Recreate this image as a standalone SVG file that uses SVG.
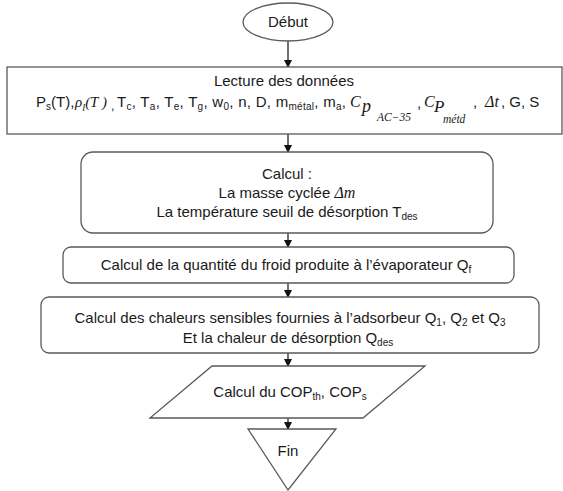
<svg xmlns="http://www.w3.org/2000/svg" width="563" height="491" viewBox="0 0 563 491">
<style>
.box{fill:#fff;stroke:#5a5a5a;stroke-width:1.3}
.t{font-family:"Liberation Sans",Arial,sans-serif;font-size:15px;fill:#1a1a1a}
.c{text-anchor:middle}
.s{font-size:10px}
.m{font-family:"Liberation Serif","Times New Roman",serif;font-style:italic;font-size:16px;fill:#1a1a1a}
.ms{font-family:"Liberation Serif","Times New Roman",serif;font-style:italic;font-size:11.5px;fill:#1a1a1a}
.ln{stroke:#111;stroke-width:1.2;fill:none}
</style>
<defs>
<marker id="ah" markerWidth="8" markerHeight="8" refX="7" refY="4" orient="auto" markerUnits="userSpaceOnUse">
<path d="M0,0 L8,4 L0,8 Z" fill="#111"/>
</marker>
</defs>
<g id="connectors">
<line class="ln" x1="288" y1="41" x2="288" y2="67" marker-end="url(#ah)"/>
<line class="ln" x1="288" y1="134" x2="288" y2="152" marker-end="url(#ah)"/>
<line class="ln" x1="288" y1="233" x2="288" y2="247" marker-end="url(#ah)"/>
<line class="ln" x1="288" y1="283" x2="288" y2="297" marker-end="url(#ah)"/>
<line class="ln" x1="288" y1="353" x2="288" y2="366" marker-end="url(#ah)"/>
<line class="ln" x1="288" y1="418" x2="288" y2="429" marker-end="url(#ah)"/>
</g>
<g id="debut">
<ellipse class="box" cx="288" cy="22" rx="45" ry="19"/>
<text class="t c" x="288" y="27">Début</text>
</g>
<g id="lecture">
<rect class="box" x="7" y="67" width="555" height="67"/>
<text class="t c" x="284" y="86">Lecture des données</text>
<text class="t" y="107"><tspan x="36">P</tspan><tspan class="s" dy="3">s</tspan><tspan dy="-3">(T),</tspan></text>
<text class="m" y="107" x="75" style="font-size:15px">ρ<tspan class="ms" dy="4" style="font-size:10.5px">l</tspan><tspan dy="-4">(T )</tspan></text>
<text class="t" y="110" x="111" style="font-size:12px">,</text>
<text class="t" y="107" x="117" textLength="229" lengthAdjust="spacing">T<tspan class="s" dy="3">c</tspan><tspan dy="-3">, T</tspan><tspan class="s" dy="3">a</tspan><tspan dy="-3">, T</tspan><tspan class="s" dy="3">e</tspan><tspan dy="-3">, T</tspan><tspan class="s" dy="3">g</tspan><tspan dy="-3">, w</tspan><tspan class="s" dy="3">0</tspan><tspan dy="-3">, n, D, m</tspan><tspan class="s" dy="3">métal</tspan><tspan dy="-3">, m</tspan><tspan class="s" dy="3">a</tspan><tspan dy="-3">,</tspan></text>
<text class="m" x="350" y="107">C</text>
<text class="m" x="362" y="112" style="font-size:18px">p</text>
<text class="ms" x="377" y="121">AC−35</text>
<text class="t" x="417" y="108">,</text>
<text class="m" x="424" y="107">C</text>
<text class="m" x="434" y="112" style="font-size:17px">P</text>
<text class="ms" x="443" y="123">métd</text>
<text class="t" x="473" y="107">,</text>
<text class="m" x="485" y="107">Δt</text>
<text class="t" x="501" y="107">, G, S</text>
</g>
<g id="calcul">
<rect class="box" x="81" y="152" width="412" height="81" rx="12"/>
<text class="t c" x="287" y="179">Calcul :</text>
<text class="t c" x="287" y="198">La masse cyclée  <tspan class="m">Δm</tspan></text>
<text class="t c" x="287" y="217">La température seuil de désorption T<tspan class="s" dy="3">des</tspan></text>
</g>
<g id="froid">
<rect class="box" x="63" y="247" width="451" height="36" rx="8"/>
<text class="t c" x="286" y="270">Calcul de la quantité du froid produite à l’évaporateur Q<tspan class="s" dy="3">f</tspan></text>
</g>
<g id="chaleurs">
<rect class="box" x="41" y="297" width="498" height="56" rx="8"/>
<text class="t c" x="290" y="323">Calcul des chaleurs sensibles  fournies à l’adsorbeur Q<tspan class="s" dy="3">1</tspan><tspan dy="-3">, Q</tspan><tspan class="s" dy="3">2</tspan><tspan dy="-3"> et Q</tspan><tspan class="s" dy="3">3</tspan></text>
<text class="t c" x="288" y="343">Et la chaleur de désorption Q<tspan class="s" dy="3">des</tspan></text>
</g>
<g id="cop">
<polygon class="box" points="212,366 425,366 363,418 150,418"/>
<text class="t c" x="290" y="397">Calcul du COP<tspan class="s" dy="3">th</tspan><tspan dy="-3">, COP</tspan><tspan class="s" dy="3">s</tspan></text>
</g>
<g id="fin">
<polygon class="box" points="248,429 336,429 288,490"/>
<text class="t c" x="288" y="456">Fin</text>
</g>
</svg>
